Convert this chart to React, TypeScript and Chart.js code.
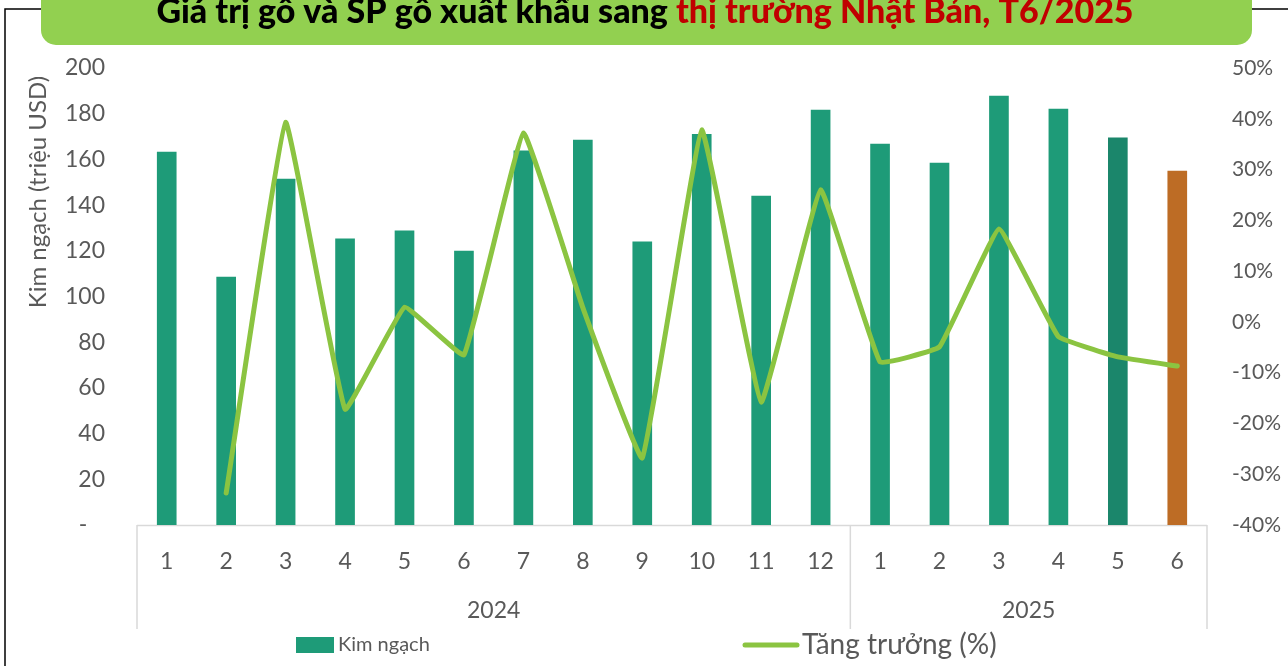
import { useEffect, useRef } from 'react';
import { Chart, registerables } from 'chart.js';

Chart.register(...registerables);

// ---- data ----
const monthLabels = ['1', '2', '3', '4', '5', '6', '7', '8', '9', '10', '11', '12', '1', '2', '3', '4', '5', '6'];
const yearLabels = ['2024', '2025'];
const monthsPerYear = [12, 6];
const exportValue = [163.2, 108.5, 151.4, 125.2, 128.7, 119.9, 163.7, 168.5, 123.9, 171.0, 144.0, 181.6, 166.7, 158.4, 187.7, 182.0, 169.4, 154.9];
const growthPct: (number | null)[] = [null, -33.7, 39.3, -17.2, 2.9, -6.5, 37.2, 2.8, -26.8, 37.8, -15.8, 26.0, -7.9, -4.9, 18.3, -2.9, -6.9, -8.7];
const leftAxisTicks = [0, 20, 40, 60, 80, 100, 120, 140, 160, 180, 200];
const rightAxisTicks = [-40, -30, -20, -10, 0, 10, 20, 30, 40, 50];

const barLabel = 'Kim ngạch';
const lineLabel = 'Tăng trưởng (%)';
const yAxisTitle = 'Kim ngạch (triệu USD)';
const titleBlack = 'Giá trị gỗ và SP gỗ xuất khẩu sang ';
const titleRed = 'thị trường Nhật Bản, T6/2025';

// ---- styles ----
const BAR = '#1E9B78';
const BAR_DARK = '#1B866B';
const BAR_ORANGE = '#BD6C25';
const LINE = '#8BC441';
const TEXT = '#595959';
const GRID = '#D9D9D9';
const FONT = 'Lato, "Liberation Sans", sans-serif';
const barColors = exportValue.map((_, i) =>
  i === exportValue.length - 1 ? BAR_ORANGE : i === exportValue.length - 2 ? BAR_DARK : BAR
);

const decor = {
  id: 'decor',
  beforeDatasetsDraw(chart: any) {
    const { ctx, chartArea } = chart;
    ctx.save();
    ctx.strokeStyle = GRID;
    ctx.lineWidth = 1.5;
    ctx.beginPath();
    ctx.moveTo(chartArea.left, chartArea.bottom + 0.5);
    ctx.lineTo(chartArea.right, chartArea.bottom + 0.5);
    ctx.stroke();
    ctx.restore();
  },
  afterDraw(chart: any) {
    const { ctx, chartArea, scales } = chart;
    const x = scales.x;
    ctx.save();
    // frame
    ctx.strokeStyle = '#000';
    ctx.lineWidth = 1.5;
    ctx.beginPath();
    ctx.moveTo(5, 700);
    ctx.lineTo(5, 9);
    ctx.lineTo(60, 9);
    ctx.moveTo(1230, 9);
    ctx.lineTo(1300, 9);
    ctx.stroke();
    // banner
    ctx.fillStyle = '#92D050';
    ctx.beginPath();
    (ctx as any).roundRect(41, -30, 1211, 75, 15);
    ctx.fill();
    // title
    ctx.font = `900 34px ${FONT}`;
    ctx.textBaseline = 'alphabetic';
    ctx.textAlign = 'left';
    const w1 = ctx.measureText(titleBlack).width;
    const w2 = ctx.measureText(titleRed).width;
    const tx = 645 - (w1 + w2) / 2;
    ctx.fillStyle = '#000';
    ctx.fillText(titleBlack, tx, 23);
    ctx.fillStyle = '#C00000';
    ctx.fillText(titleRed, tx + w1, 23);

    // group separators + year labels
    const step = x.getPixelForValue(1) - x.getPixelForValue(0);
    ctx.strokeStyle = GRID;
    ctx.lineWidth = 1.5;
    ctx.fillStyle = TEXT;
    ctx.font = `23px ${FONT}`;
    ctx.textAlign = 'center';
    ctx.textBaseline = 'middle';
    let start = 0;
    monthsPerYear.forEach((n, gi) => {
      const left = x.getPixelForValue(start) - step / 2;
      const right = x.getPixelForValue(start + n - 1) + step / 2;
      ctx.beginPath();
      ctx.moveTo(left, chartArea.bottom);
      ctx.lineTo(left, 629);
      if (gi === monthsPerYear.length - 1) {
        ctx.moveTo(right, chartArea.bottom);
        ctx.lineTo(right, 629);
      }
      ctx.stroke();
      ctx.fillText(yearLabels[gi], (left + right) / 2, 611);
      start += n;
    });

    // y axis title
    ctx.save();
    ctx.translate(38, 192);
    ctx.rotate(-Math.PI / 2);
    ctx.font = `24px ${FONT}`;
    ctx.fillText(yAxisTitle, 0, 0);
    ctx.restore();

    // legend
    ctx.fillStyle = BAR;
    ctx.fillRect(296, 637, 38, 16);
    ctx.fillStyle = TEXT;
    ctx.textAlign = 'left';
    ctx.font = `20px ${FONT}`;
    ctx.fillText(barLabel, 338, 645);
    ctx.strokeStyle = LINE;
    ctx.lineWidth = 5;
    ctx.lineCap = 'round';
    ctx.beginPath();
    ctx.moveTo(745, 645);
    ctx.lineTo(797, 645);
    ctx.stroke();
    ctx.font = `28px ${FONT}`;
    ctx.fillText(lineLabel, 802, 645);
    ctx.restore();
  },
};

export default function App() {
  const ref = useRef<HTMLCanvasElement>(null);
  useEffect(() => {
    if (!ref.current) return;
    const chart = new Chart(ref.current, {
      type: 'bar',
      data: {
        labels: monthLabels,
        datasets: [
          {
            type: 'line',
            label: lineLabel,
            data: growthPct,
            yAxisID: 'y1',
            borderColor: LINE,
            backgroundColor: LINE,
            borderWidth: 5,
            pointRadius: 0,
            tension: 0.08,
            borderCapStyle: 'round',
            borderJoinStyle: 'round',
            order: 1,
          } as any,
          {
            type: 'bar',
            label: barLabel,
            data: exportValue,
            yAxisID: 'y',
            backgroundColor: barColors,
            barThickness: 19,
            order: 2,
          },
        ],
      },
      options: {
        animation: false,
        responsive: false,
        layout: { padding: { top: 68, left: 0, right: 0, bottom: 0 } },
        plugins: { legend: { display: false }, tooltip: { enabled: false }, title: { display: false } },
        scales: {
          x: {
            grid: { display: false },
            border: { display: false },
            ticks: { color: TEXT, font: { family: FONT, size: 23 }, padding: 15, maxRotation: 0, autoSkip: false },
            afterFit: (s: any) => { s.height = 141; },
          },
          y: {
            position: 'left',
            min: 0,
            max: 200,
            grid: { display: false },
            border: { display: false },
            afterBuildTicks: (s: any) => { s.ticks = leftAxisTicks.map((v) => ({ value: v })); },
            ticks: {
              color: TEXT,
              font: { family: FONT, size: 23 },
              padding: 24,
              callback: (v: any) => (Number(v) === 0 ? '-   ' : String(v)),
            },
            afterFit: (s: any) => { s.width = 137; },
          },
          y1: {
            position: 'right',
            min: -40,
            max: 50,
            grid: { display: false },
            border: { display: false },
            afterBuildTicks: (s: any) => { s.ticks = rightAxisTicks.map((v) => ({ value: v })); },
            ticks: {
              color: TEXT,
              font: { family: FONT, size: 21 },
              padding: 17,
              align: 'center',
              crossAlign: 'near',
              callback: (v: any) => `${v}%`,
            },
            afterFit: (s: any) => { s.width = 81; },
          },
        },
      },
      plugins: [decor],
    });
    return () => chart.destroy();
  }, []);
  return (
    <div style={{ position: 'fixed', left: 0, top: 0, width: 1288, height: 666, background: '#fff' }}>
      <canvas ref={ref} width={1288} height={666} style={{ display: 'block' }} />
    </div>
  );
}
